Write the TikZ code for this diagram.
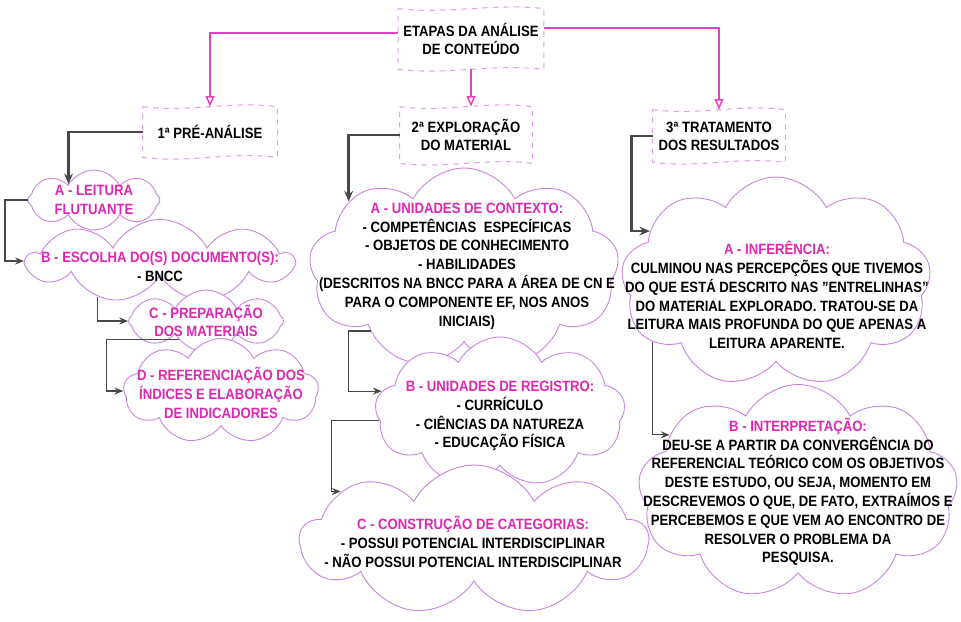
\documentclass[tikz,border=0pt]{standalone}
\usepackage{fontspec}
\setmainfont{Liberation Sans}[FakeStretch=0.88]
\usetikzlibrary{shapes.symbols,arrows.meta,calc}
\definecolor{stagepink}{RGB}{228,64,196}
\definecolor{titlepink}{RGB}{222,40,178}
\definecolor{cloudline}{RGB}{200,130,226}
\definecolor{flagdash}{RGB}{226,160,236}
\definecolor{linkgray}{RGB}{72,72,72}
\tikzset{
  cloudbox/.style={cloud, cloud puffs=9, cloud puff arc=125, cloud ignores aspect,
    draw=cloudline, fill=white, line width=0.5pt, inner sep=0pt},
  txt/.style={align=center, font=\bfseries\fontsize{8.5}{10.7}\selectfont},
  flagbox/.style={inner sep=0pt, align=center, font=\bfseries\fontsize{8.5}{10.2}\selectfont},
  flagedge/.style={draw=flagdash, dashed, line width=0.6pt},
  stagearr/.style={draw=stagepink, line width=0.85pt, -{Triangle[open,length=6pt,width=5pt]}},
  mainarr/.style={draw=linkgray, line width=1.4pt, -{Stealth[length=6pt,width=5pt]}},
  subarr/.style={draw=linkgray, line width=0.7pt, -{Stealth[length=5pt,width=4pt]}},
}
\newcommand{\pinktitle}[1]{\textcolor{titlepink}{#1}}
% wavy dashed outline round a stage node
\newcommand{\wavyflag}[1]{%
  \draw[flagedge] (#1.north west)
    .. controls ($(#1.north west)!0.35!(#1.north east)+(0,6)$) and ($(#1.north west)!0.65!(#1.north east)+(0,-6)$) .. (#1.north east)
    -- (#1.south east)
    .. controls ($(#1.south west)!0.65!(#1.south east)+(0,-6)$) and ($(#1.south west)!0.35!(#1.south east)+(0,6)$) .. (#1.south west)
    -- cycle;}
\begin{document}
\begin{tikzpicture}[x=0.02cm, y=-0.02cm]
\useasboundingbox[fill=white] (0,0) rectangle (961,622);

% stages
\node[flagbox, minimum width=2.9cm, minimum height=1.2cm] (t0) at (471,39) {ETAPAS DA ANÁLISE\\DE CONTEÚDO};
\node[flagbox, minimum width=2.68cm, minimum height=1.0cm] (b1) at (210,132) {1ª PRÉ-ANÁLISE};
\node[flagbox, minimum width=2.64cm, minimum height=1.12cm] (b2) at (466,135) {2ª EXPLORAÇÃO\\DO MATERIAL};
\node[flagbox, minimum width=2.64cm, minimum height=1.04cm] (b3) at (719,136) {3ª TRATAMENTO\\DOS RESULTADOS};
\wavyflag{t0}
\wavyflag{b1}
\wavyflag{b2}
\wavyflag{b3}

% pre-analysis
\node[cloudbox, cloud puffs=8, minimum width=2.64cm, minimum height=1.2cm] (lA) at (94,200) {};
\node[cloudbox, minimum width=5.3cm, minimum height=1.66cm] (lB) at (160,261) {};
\node[cloudbox, cloud puffs=8, minimum width=3.1cm, minimum height=1.24cm] (lC) at (206,321) {};
\node[cloudbox, minimum width=3.9cm, minimum height=2.1cm] (lD) at (221,391) {};
\node[txt] (tlA) at (94,200) {\pinktitle{A - LEITURA}\\\pinktitle{FLUTUANTE}};
\node[txt] (tlB) at (160,267) {\pinktitle{B - ESCOLHA DO(S) DOCUMENTO(S):}\\- BNCC};
\node[txt] (tlC) at (206,321) {\pinktitle{C - PREPARAÇÃO}\\\pinktitle{DOS MATERIAIS}};
\node[txt] (tlD) at (221,393) {\pinktitle{D - REFERENCIAÇÃO DOS}\\\pinktitle{ÍNDICES E ELABORAÇÃO}\\\pinktitle{DE INDICADORES}};

% exploration
\node[cloudbox, minimum width=6.2cm, minimum height=4.0cm] (mA) at (464,268) {};
\node[cloudbox, minimum width=5.0cm, minimum height=3.0cm] (mB) at (500,412) {};
\node[cloudbox, minimum width=6.96cm, minimum height=3.0cm] (mC) at (474,540) {};
\node[txt] (tmA) at (467,266) {\pinktitle{A - UNIDADES DE CONTEXTO:}\\- COMPETÊNCIAS\ \ ESPECÍFICAS\\- OBJETOS DE CONHECIMENTO\\- HABILIDADES\\(DESCRITOS NA BNCC PARA A ÁREA DE CN E\\PARA O COMPONENTE EF, NOS ANOS\\INICIAIS)};
\node[txt] (tmB) at (500,416) {\pinktitle{B - UNIDADES DE REGISTRO:}\\- CURRÍCULO\\- CIÊNCIAS DA NATUREZA\\- EDUCAÇÃO FÍSICA};
\node[txt] (tmC) at (473,542) {\pinktitle{C - CONSTRUÇÃO DE CATEGORIAS:}\\- POSSUI POTENCIAL INTERDISCIPLINAR\\- NÃO POSSUI POTENCIAL INTERDISCIPLINAR};

% treatment
\node[cloudbox, minimum width=6.2cm, minimum height=4.2cm] (rA) at (776,282) {};
\node[cloudbox, minimum width=6.4cm, minimum height=4.3cm] (rB) at (798,492) {};
\node[txt] (trA) at (777,295) {\pinktitle{A - INFERÊNCIA:}\\CULMINOU NAS PERCEPÇÕES QUE TIVEMOS\\DO QUE ESTÁ DESCRITO NAS "ENTRELINHAS"\\DO MATERIAL EXPLORADO. TRATOU-SE DA\\LEITURA MAIS PROFUNDA DO QUE APENAS A\\LEITURA APARENTE.};
\node[txt] (trB) at (798,492) {\pinktitle{B - INTERPRETAÇÃO:}\\DEU-SE A PARTIR DA CONVERGÊNCIA DO\\REFERENCIAL TEÓRICO COM OS OBJETIVOS\\DESTE ESTUDO, OU SEJA, MOMENTO EM\\DESCREVEMOS O QUE, DE FATO, EXTRAÍMOS E\\PERCEBEMOS E QUE VEM AO ENCONTRO DE\\RESOLVER O PROBLEMA DA\\PESQUISA.};

% links
\draw[stagearr] ($(t0.west)+(0,-6)$) -| (b1.north);
\draw[stagearr] ($(t0.east)+(0,-11)$) -| (b3.north);
\draw[stagearr] (t0.south) -- (t0.south |- b2.north);
\draw[mainarr] (b1.west) -| (lA.148);
\draw[mainarr] (b2.west) -| (mA.150);
\draw[mainarr] (b3.west) -- ++(-21,0) |- (rA.158);
\draw[subarr] (lA.west) -| ($(lB.west)+(-19,0)$) |- (lB.west);
\draw[subarr] (lB.210) |- (lC.west);
\draw[subarr] (lC.215) -| ($(lD.west)+(-17,0)$) |- (lD.west);
\draw[subarr] (mA.214) -- ++(-22,0) |- (mB.170);
\draw[subarr] (mB.184) -- ++(-48,0) |- (mC.160);
\draw[subarr] (rA.206) |- (rB.156);
\end{tikzpicture}
\end{document}
